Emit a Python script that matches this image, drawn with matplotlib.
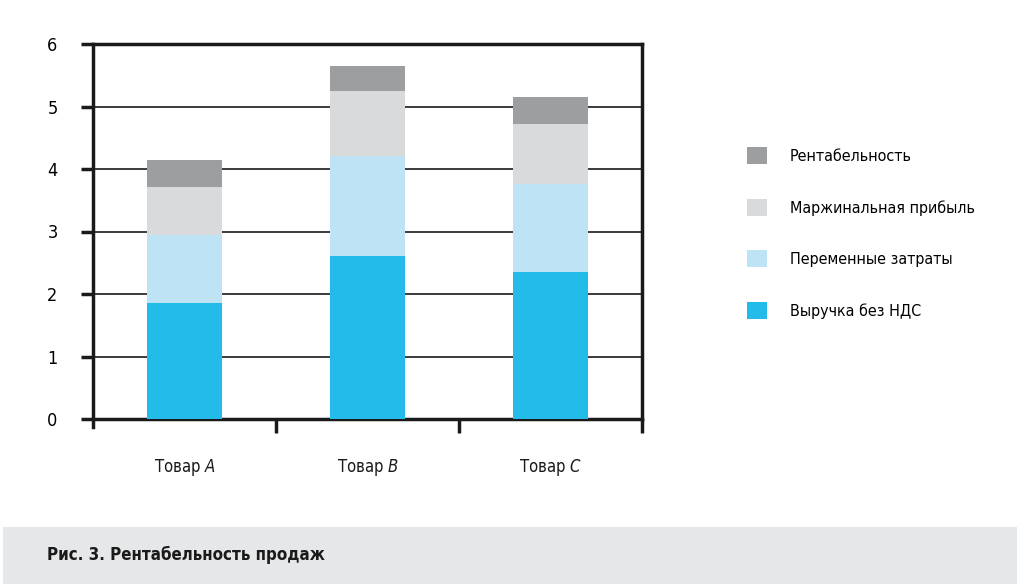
import matplotlib.pyplot as plt
import matplotlib.patches as mpatches
import numpy as np

plt.rcParams['font.family'] = ['DejaVu Sans']
plt.rcParams['font.stretch'] = 'condensed'
plt.rcParams['mathtext.fontset'] = 'custom'
plt.rcParams['mathtext.it'] = 'DejaVu Sans:italic'
plt.rcParams['mathtext.rm'] = 'DejaVu Sans'

# Data
products = ['Товар $\\mathit{A}$', 'Товар $\\mathit{B}$', 'Товар $\\mathit{C}$']
revenue = [1.85, 2.61, 2.35]
variable_costs = [1.09, 1.60, 1.41]
margin = [0.77, 1.04, 0.96]
profitability = [0.43, 0.40, 0.43]
series_names = ['Выручка без НДС', 'Переменные затраты', 'Маржинальная прибыль', 'Рентабельность']
colors = ['#22BBEA', '#BDE3F5', '#D9DADC', '#9D9EA0']

fig = plt.figure(figsize=(10.17, 5.84), dpi=100)

# caption band
fig.patches.append(mpatches.Rectangle((0.003, 0), 0.997, 57 / 584, transform=fig.transFigure,
                                      facecolor='#E6E7E8', edgecolor='none', zorder=0))
fig.text(47 / 1017, 29 / 584, 'Рис. 3. Рентабельность продаж', fontsize=12.2, fontweight='bold',
         va='center', ha='left', color='#1a1a1a')

ax = fig.add_axes([93 / 1017, 165 / 584, 549 / 1017, 375 / 584])

x = np.arange(len(products))
bottom = np.zeros(len(products))
handles = []
for vals, name, c in zip([revenue, variable_costs, margin, profitability], series_names, colors):
    b = ax.bar(x, vals, width=0.415, bottom=bottom, color=c, label=name, zorder=3)
    bottom += np.array(vals)
    handles.append(b)

ax.set_xlim(-0.5, 2.5)
ax.set_ylim(0, 6)
ax.set_yticks(range(7))
ax.tick_params(axis='y', direction='out', length=8.5, width=2.5, labelsize=13, pad=17, color='#1a1a1a')
ax.set_xticks([0.5, 1.5, 2.5])
ax.set_xticklabels([])
ax.tick_params(axis='x', direction='out', length=10, width=2.5, color='#1a1a1a')
for xi, lab in zip(x, products):
    ax.text(xi, -0.78, lab, ha='center', va='center', fontsize=12, color='#1a1a1a')

for yv in range(1, 6):
    ax.axhline(yv, color='#1a1a1a', lw=1.2, zorder=1)
for s in ax.spines.values():
    s.set_linewidth(2.5)
    s.set_color('#1a1a1a')
ax.spines['left'].set_bounds(-0.13, 6)

fig.legend(handles[::-1], series_names[::-1], loc='upper left',
           bbox_to_anchor=(733 / 1017, 1 - 133 / 584), frameon=False, fontsize=11.5,
           handlelength=1.25, handleheight=1.25, labelspacing=2.17, handletextpad=1.4)

fig.savefig('out.png', dpi=100)
